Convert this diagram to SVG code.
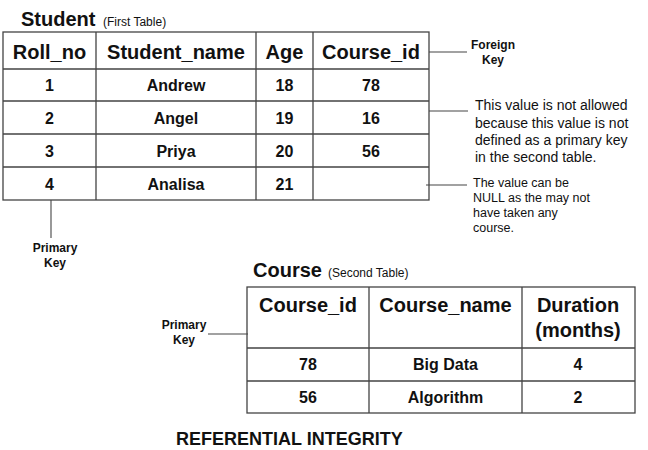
<svg xmlns="http://www.w3.org/2000/svg" width="648" height="450" viewBox="0 0 648 450">
<style>
.grid{fill:none;stroke:#444;stroke-width:1.3}
.conn{stroke:#444;stroke-width:1.1;fill:none}
text{font-family:"Liberation Sans",Arial,sans-serif;fill:#111}
.title{font-size:20px;font-weight:bold}
.sub{font-size:12px}
.hd{font-size:20px;font-weight:bold;text-anchor:middle}
.cell{font-size:16px;font-weight:bold;text-anchor:middle}
.lbl{font-size:12px;font-weight:bold;text-anchor:middle}
.note{font-size:14px}
.note2{font-size:12.5px}
.cap{font-size:18px;font-weight:bold}
</style>
<rect width="648" height="450" fill="#fff"/>
<g id="student-table">
<text class="title" x="21" y="26">Student</text>
<text class="sub" x="103" y="26">(First Table)</text>
<rect class="grid" x="3" y="32" width="426" height="168"/>
<path class="grid" d="M3 69H429M3 101H429M3 134H429M3 167H429M96 32V200M256 32V200M313 32V200"/>
<text class="hd" x="49.5" y="58.5">Roll_no</text>
<text class="hd" x="176" y="58.5">Student_name</text>
<text class="hd" x="284.5" y="58.5">Age</text>
<text class="hd" x="371" y="58.5">Course_id</text>
<text class="cell" x="49.5" y="91">1</text>
<text class="cell" x="176" y="91">Andrew</text>
<text class="cell" x="284.5" y="91">18</text>
<text class="cell" x="371" y="91">78</text>
<text class="cell" x="49.5" y="123.5">2</text>
<text class="cell" x="176" y="123.5">Angel</text>
<text class="cell" x="284.5" y="123.5">19</text>
<text class="cell" x="371" y="123.5">16</text>
<text class="cell" x="49.5" y="156.5">3</text>
<text class="cell" x="176" y="156.5">Priya</text>
<text class="cell" x="284.5" y="156.5">20</text>
<text class="cell" x="371" y="156.5">56</text>
<text class="cell" x="49.5" y="189.5">4</text>
<text class="cell" x="176" y="189.5">Analisa</text>
<text class="cell" x="284.5" y="189.5">21</text>
</g>
<g id="course-table">
<text class="title" x="253" y="277">Course</text>
<text class="sub" x="328" y="277">(Second Table)</text>
<rect class="grid" x="247" y="287" width="388" height="126"/>
<path class="grid" d="M247 348H635M247 381H635M369 287V413M522 287V413"/>
<text class="hd" x="308" y="312">Course_id</text>
<text class="hd" x="445.5" y="312">Course_name</text>
<text class="hd" x="578" y="312">Duration</text>
<text class="hd" x="578" y="337">(months)</text>
<text class="cell" x="308" y="370">78</text>
<text class="cell" x="445.5" y="370">Big Data</text>
<text class="cell" x="578" y="370">4</text>
<text class="cell" x="308" y="403">56</text>
<text class="cell" x="445.5" y="403">Algorithm</text>
<text class="cell" x="578" y="403">2</text>
</g>
<g id="connectors">
<path class="conn" d="M429 52H467"/>
<path class="conn" d="M429 111H468"/>
<path class="conn" d="M426 185H467"/>
<path class="conn" d="M51 200V238"/>
<path class="conn" d="M208 334H248"/>
</g>
<g id="foreign-key-label">
<text class="lbl" x="493" y="49">Foreign</text>
<text class="lbl" x="493" y="64">Key</text>
</g>
<g id="not-allowed-note">
<text class="note" x="475" y="110">This value is not allowed</text>
<text class="note" x="475" y="127.5">because this value is not</text>
<text class="note" x="475" y="145">defined as a primary key</text>
<text class="note" x="475" y="162">in the second table.</text>
</g>
<g id="null-note">
<text class="note2" x="473" y="187">The value can be</text>
<text class="note2" x="473" y="202">NULL as the may not</text>
<text class="note2" x="473" y="217">have taken any</text>
<text class="note2" x="473" y="232">course.</text>
</g>
<g id="primary-key-label-1">
<text class="lbl" x="55" y="252">Primary</text>
<text class="lbl" x="55" y="267">Key</text>
</g>
<g id="primary-key-label-2">
<text class="lbl" x="184" y="329">Primary</text>
<text class="lbl" x="184" y="344">Key</text>
</g>
<g id="caption">
<text class="cap" x="176" y="445">REFERENTIAL INTEGRITY</text>
</g>
</svg>
